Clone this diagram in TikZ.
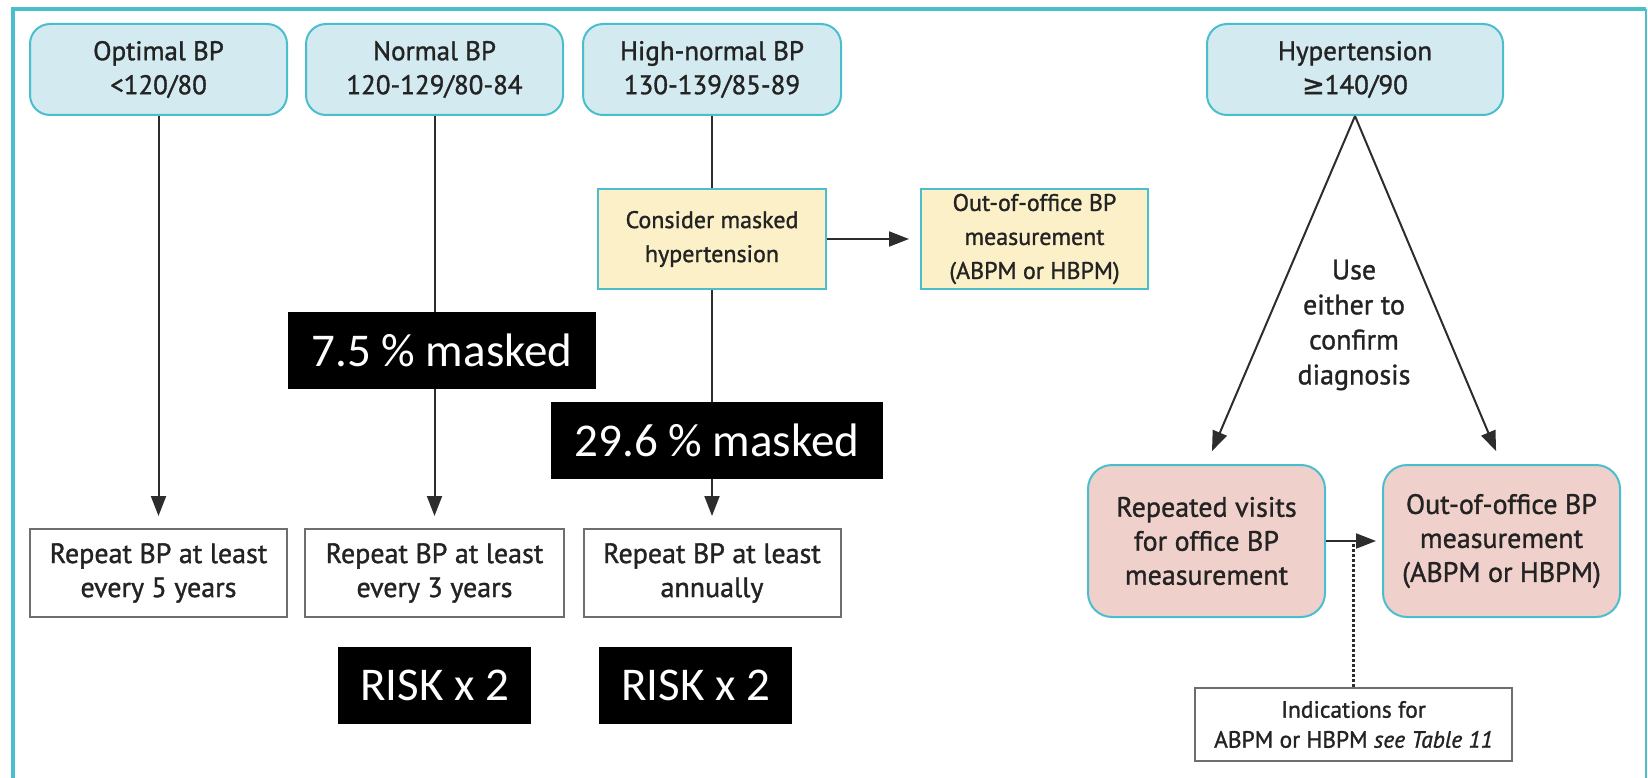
\documentclass[tikz,border=0pt]{standalone}
\usepackage{fontspec}
\setmainfont{PT Sans}
\newfontfamily\diagfont{PT Sans}[FakeBold=1.2]
\newfontfamily\riskfont{Carlito}
\newfontfamily\symfont{DejaVu Sans}[FakeBold=1.2]
\usetikzlibrary{arrows.meta}
\definecolor{bpteal}{RGB}{75,190,205}
\definecolor{bpblue}{RGB}{210,234,240}
\definecolor{noteyel}{RGB}{252,240,200}
\definecolor{visitpink}{RGB}{240,208,203}
\definecolor{lineg}{RGB}{45,45,45}
\definecolor{boxgray}{RGB}{110,110,110}
\definecolor{textg}{RGB}{35,35,35}
\begin{document}
\begin{tikzpicture}[x=1pt,y=-1pt,
    every node/.style={font=\diagfont\fontsize{24}{34}\selectfont,text=textg,align=center,inner sep=0pt},
    bpbox/.style={draw=bpteal,fill=bpblue,line width=2pt,rounded corners=20pt,minimum height=91pt,
      font=\diagfont\fontsize{27}{34}\selectfont},
    notebox/.style={draw=bpteal,fill=noteyel,line width=2pt,minimum width=228pt,minimum height=100pt},
    visitbox/.style={draw=bpteal,fill=visitpink,line width=2pt,rounded corners=24pt,minimum width=237pt,
      minimum height=152pt,font=\diagfont\fontsize{28}{34}\selectfont},
    plainbox/.style={draw=boxgray,fill=white,line width=2pt,minimum height=88pt,
      font=\diagfont\fontsize{28}{34}\selectfont},
    blackbox/.style={fill=black,text=white,font=\riskfont\fontsize{47}{56}\selectfont,minimum height=77pt},
    conn/.style={color=lineg,line width=2pt},
    arr/.style={conn,arrows={-Triangle[length=20pt,width=15pt]}}]
    \useasboundingbox (0,0) rectangle (1648,778);
    \draw[bpteal,line width=4pt] (13,782) -- (13,9) -- (1646,9);
    \draw[bpteal,line width=1.5pt] (1646,9) -- (1646,782);

    \node[bpbox,minimum width=257pt] (opt) at (158.5,69.5) {Optimal BP\\<120/80};
    \node[bpbox,minimum width=257pt] (norm) at (434.5,69.5) {Normal BP\\120-129/80-84};
    \node[bpbox,minimum width=258pt] (high) at (712,69.5) {High-normal BP\\130-139/85-89};
    \node[bpbox,minimum width=296pt] (hyp) at (1355,69.5) {Hypertension\\{\symfont ≥}140/90};

    \node[notebox] (masked) at (712,239) {Consider masked\\hypertension};
    \node[notebox,minimum width=227pt] (oob) at (1034.5,239) {Out-of-office BP\\measurement\\(ABPM or HBPM)};

    \node[plainbox,minimum width=257pt] (rep1) at (158.5,573) {Repeat BP at least\\every 5 years};
    \node[plainbox,minimum width=259pt] (rep2) at (434.5,573) {Repeat BP at least\\every 3 years};
    \node[plainbox,minimum width=257pt] (rep3) at (712,573) {Repeat BP at least\\annually};

    \node[visitbox] (visits) at (1206.5,541) {Repeated visits\\for office BP\\measurement};
    \node[visitbox] (abpm) at (1501.5,541) {Out-of-office BP\\measurement\\(ABPM or HBPM)};
    \node[plainbox,minimum width=317pt,minimum height=73pt,font=\diagfont\fontsize{23.5}{30}\selectfont]
    (indic) at (1353.5,724.5) {Indications for\\ABPM or HBPM \textit{see Table 11}};
    \node[font=\diagfont\fontsize{28}{35}\selectfont] (use) at (1354,325) {Use\\either to\\confirm\\diagnosis};

    \draw[arr,shorten >=12pt] (opt) -- (rep1);
    \draw[arr,shorten >=12pt] (norm) -- (rep2);
    \draw[conn] (high) -- (masked);
    \draw[arr,shorten >=12pt] (masked) -- (rep3);
    \draw[arr,shorten >=11pt] (masked) -- (oob);
    \draw[arr,shorten >=14pt] (hyp.south) -- (visits.north);
    \draw[arr,shorten >=14pt] (hyp.south) -- (abpm.north);
    \draw[arr,shorten >=6pt] (visits) -- (abpm);
    \draw[lineg,line width=3pt,dash pattern=on 3pt off 2pt] (indic.north) -- (indic.north |- visits.east);

    \node[blackbox,minimum width=308pt] (mask1) at (442,350.5) {7.5 \% masked};
    \node[blackbox,minimum width=332pt] (mask2) at (717,440.5) {29.6 \% masked};
    \node[blackbox,minimum width=193pt] (risk1) at (434.5,685.5) {RISK x 2};
    \node[blackbox,minimum width=193pt] (risk2) at (695.5,685.5) {RISK x 2};
\end{tikzpicture}
\end{document}
